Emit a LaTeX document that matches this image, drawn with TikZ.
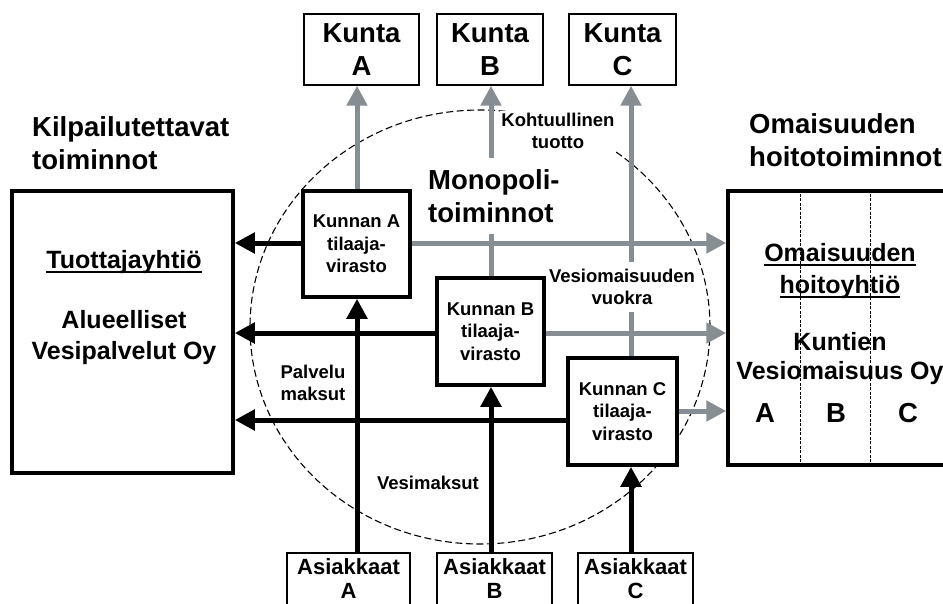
\documentclass[tikz,border=0pt]{standalone}
\usepackage{fontspec}
\setmainfont{Liberation Sans}
\usetikzlibrary{arrows.meta,backgrounds}
\definecolor{flowgray}{RGB}{134,141,147}

\newcommand\fsBig{\fontsize{27.5}{33.5}\selectfont\bfseries}
\newcommand\fsMid{\fontsize{25}{31}\selectfont\bfseries}
\newcommand\fsAs{\fontsize{22}{24}\selectfont\bfseries}
\newcommand\fsSmall{\fontsize{18.5}{22.5}\selectfont\bfseries}
% underline drawn as a 2pt bar crossing the descenders
\newcommand\ulbar[1]{\setbox0\hbox{#1}\rlap{\rule[-4.5pt]{\wd0}{2pt}}\box0}

\begin{document}
\begin{tikzpicture}[x=1pt,y=-1pt,
  thinbox/.style={draw,line width=1.4pt,fill=white,align=center,inner sep=0pt},
  thickbox/.style={draw,line width=3.5pt,fill=white,align=center,inner sep=0pt},
  grayflow/.style={draw=flowgray,line width=5pt,-{Triangle[length=20pt,width=20pt]}},
  blackflow/.style={draw=black,line width=5pt,-{Triangle[length=20pt,width=20pt]}},
  flowlabel/.style={align=center,inner sep=1pt},
  whitelabel/.style={align=center,fill=white,inner xsep=1pt},
  regionline/.style={line width=1.1pt,dash pattern=on 7pt off 3.5pt},
  divider/.style={line width=0.8pt,dash pattern=on 3pt off 1.5pt},
]
\useasboundingbox (0,0) rectangle (943,603);

% column and row guides
\coordinate (colA) at (357,0);
\coordinate (colB) at (491,0);
\coordinate (colC) at (631,0);
\coordinate (rowA) at (0,243);
\coordinate (rowB) at (0,333);
\coordinate (rowCg) at (0,411);
\coordinate (rowCb) at (0,420);
\coordinate (divAB) at (800,0);
\coordinate (divBC) at (870,0);

% municipalities
\node[thinbox,font=\fsBig,minimum width=115pt,minimum height=71pt] (kuntaA) at (361.5,49.5) {Kunta\\A};
\node[thinbox,font=\fsBig,minimum width=106pt,minimum height=71pt] (kuntaB) at (490,49.5) {Kunta\\B};
\node[thinbox,font=\fsBig,minimum width=107pt,minimum height=71pt] (kuntaC) at (622.5,49.5) {Kunta\\C};

% customers
\node[thinbox,font=\fsAs,minimum width=123pt,minimum height=52pt] (asA) at (348.5,579) {Asiakkaat\\A};
\node[thinbox,font=\fsAs,minimum width=115pt,minimum height=52pt] (asB) at (494.5,579) {Asiakkaat\\B};
\node[thinbox,font=\fsAs,minimum width=115pt,minimum height=52pt] (asC) at (635.5,579) {Asiakkaat\\C};

% client agencies
\node[thickbox,font=\fsSmall,minimum width=107pt,minimum height=106pt] (kunnanA) at (356.5,244) {Kunnan A\\tilaaja-\\virasto};
\node[thickbox,font=\fsSmall,minimum width=107pt,minimum height=107pt] (kunnanB) at (490.5,331.5) {Kunnan B\\tilaaja-\\virasto};
\node[thickbox,font=\fsSmall,minimum width=109pt,minimum height=107pt] (kunnanC) at (622.5,411.5) {Kunnan C\\tilaaja-\\virasto};

% producer and asset companies
\node[thickbox,minimum width=221pt,minimum height=282pt] (tuot) at (122.5,332) {};
\node[thickbox,minimum width=224pt,minimum height=274pt] (omai) at (840,328) {};

% headings
\node[anchor=west,align=left,inner sep=0pt,font=\fsBig] (kilp) at (32,143) {Kilpailutettavat\\toiminnot};
\node[anchor=west,align=left,inner sep=0pt,font=\fsBig] (omhead) at (749,140) {Omaisuuden\\hoitotoiminnot};
\node[anchor=west,align=left,fill=white,inner xsep=1pt,inner ysep=11pt,font=\fsBig] (mono) at (427,196) {Monopoli-\\toiminnot};

% flow labels
\node[whitelabel,inner ysep=2pt,font=\fsSmall] (tuotto) at (558,131) {Kohtuullinen\\tuotto};
\node[whitelabel,inner ysep=7pt,font=\fsSmall] (vuokra) at (622,287) {Vesiomaisuuden\\vuokra};
\node[flowlabel,font=\fsSmall] (palvelu) at (313,383) {Palvelu\\maksut};
\node[flowlabel,font=\fsSmall] (vesimaksut) at (428,483) {Vesimaksut};

% texts inside the companies
\node[flowlabel,font=\fsMid] (tuotname) at (124,262) {\ulbar{Tuottajayhtiö}};
\node[flowlabel,font=\fsMid] (tuotco) at (124,338) {Alueelliset\\Vesipalvelut Oy};
\node[flowlabel,font={\fontsize{25}{32}\selectfont\bfseries}] (omainame) at (840,271) {\ulbar{Omaisuuden}\\\ulbar{hoitoyhtiö}};
\node[flowlabel,font={\fontsize{25}{29}\selectfont\bfseries}] (omaico) at (840,359) {Kuntien\\Vesiomaisuus Oy};
\node[flowlabel,font=\fsBig] (partA) at (765,413) {A};
\node[flowlabel,font=\fsBig] (partB) at (836,413) {B};
\node[flowlabel,font=\fsBig] (partC) at (908,413) {C};
\draw[divider] (omai.north -| divAB) -- (omai.south -| divAB);
\draw[divider] (omai.north -| divBC) -- (omai.south -| divBC);

\begin{pgfonlayer}{background}
  % monopoly region
  \draw[regionline] (480,327) ellipse [x radius=230pt, y radius=217pt];
  % returns to the municipalities
  \draw[grayflow] (kunnanA.north -| colA) -- (kuntaA.south -| colA);
  \draw[grayflow] (kunnanB.north -| colB) -- (kuntaB.south -| colB);
  \draw[grayflow] (kunnanC.north -| colC) -- (kuntaC.south -| colC);
  % rents to the asset company
  \draw[grayflow] (kunnanA.east |- rowA) -- (omai.west |- rowA);
  \draw[grayflow] (kunnanB.east |- rowB) -- (omai.west |- rowB);
  \draw[grayflow] (kunnanC.east |- rowCg) -- (omai.west |- rowCg);
  % service fees to the producer
  \draw[blackflow] (kunnanA.west |- rowA) -- (tuot.east |- rowA);
  \draw[blackflow] (kunnanB.west |- rowB) -- (tuot.east |- rowB);
  \draw[blackflow] (kunnanC.west |- rowCb) -- (tuot.east |- rowCb);
  % water fees from customers
  \draw[blackflow] (asA.north -| colA) -- (kunnanA.south -| colA);
  \draw[blackflow] (asB.north -| colB) -- (kunnanB.south -| colB);
  \draw[blackflow] (asC.north -| colC) -- (kunnanC.south -| colC);
\end{pgfonlayer}
\end{tikzpicture}
\end{document}
